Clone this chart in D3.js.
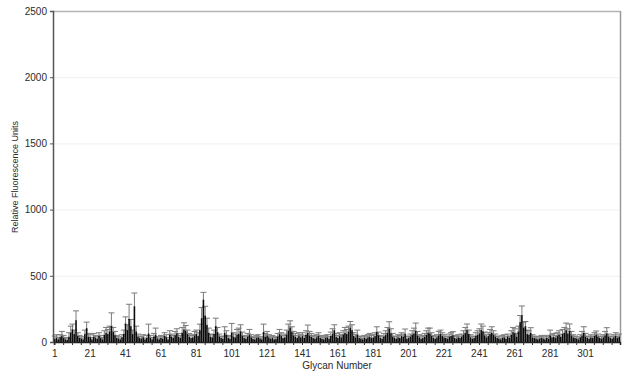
<!DOCTYPE html>
<html><head><meta charset="utf-8">
<script src="https://cdn.jsdelivr.net/npm/d3@7"></script>
<style>body{margin:0;background:#fff}svg{display:block}text{font-family:"Liberation Sans",Arial,sans-serif}</style>
</head><body>
<svg id="c" width="622" height="372"></svg>
<script>
const yTicks = [0, 500, 1000, 1500, 2000, 2500];
const xTickLabels = [1, 21, 41, 61, 81, 101, 121, 141, 161, 181, 201, 221, 241, 261, 281, 301];
const rfu = [
 25, 30, 20, 35, 45, 30, 20, 15, 40, 70, 95, 60, 165, 45, 30, 25, 20, 60, 105, 40,
 35, 20, 40, 30, 25, 45, 30, 20, 55, 70, 60, 80, 120, 75, 50, 30, 25, 20, 35, 60,
 140, 90, 175, 120, 60, 270, 80, 40, 30, 25, 35, 20, 30, 65, 30, 20, 40, 55, 25, 20,
 30, 25, 45, 35, 20, 55, 40, 30, 50, 65, 40, 30, 70, 95, 85, 60, 40, 30, 35, 50,
 60, 45, 90, 180, 320, 200, 130, 70, 40, 35, 60, 120, 75, 40, 30, 25, 70, 55, 30, 25,
 70, 40, 35, 55, 60, 80, 45, 30, 25, 40, 55, 35, 25, 20, 30, 35, 25, 20, 75, 40,
 50, 35, 25, 30, 20, 25, 40, 60, 45, 30, 35, 55, 85, 110, 75, 50, 40, 30, 45, 35,
 45, 30, 55, 70, 50, 40, 30, 25, 35, 45, 30, 25, 20, 30, 35, 25, 45, 60, 90, 40,
 30, 45, 35, 55, 70, 60, 80, 110, 90, 45, 35, 55, 30, 25, 20, 30, 25, 35, 40, 30,
 35, 45, 75, 50, 30, 25, 40, 55, 70, 100, 65, 40, 30, 25, 35, 30, 45, 40, 60, 25,
 30, 40, 55, 65, 85, 50, 35, 25, 30, 40, 55, 70, 65, 45, 30, 25, 35, 50, 60, 45,
 35, 30, 25, 40, 45, 50, 30, 25, 35, 30, 40, 55, 70, 90, 60, 35, 25, 30, 45, 55,
 65, 90, 80, 50, 35, 45, 60, 70, 55, 40, 30, 25, 20, 30, 35, 25, 40, 30, 55, 75,
 65, 40, 80, 150, 200, 110, 120, 60, 55, 70, 35, 30, 25, 20, 25, 30, 25, 20, 30, 25,
 50, 35, 40, 30, 45, 55, 40, 60, 70, 90, 65, 85, 50, 35, 30, 25, 20, 35, 50, 70,
 40, 30, 25, 35, 30, 45, 55, 40, 30, 25, 35, 50, 65, 40, 30, 25, 35, 45, 30, 40
];
const sd = [
 20, 25, 15, 20, 35, 20, 15, 10, 30, 50, 40, 30, 70, 25, 20, 15, 10, 30, 45, 25,
 20, 15, 25, 20, 15, 25, 20, 15, 30, 40, 35, 40, 100, 35, 30, 20, 15, 10, 20, 30,
 50, 40, 110, 50, 30, 100, 40, 20, 15, 15, 20, 10, 20, 70, 20, 15, 25, 50, 15, 10,
 20, 15, 25, 20, 15, 30, 20, 20, 30, 35, 25, 20, 40, 50, 40, 30, 25, 20, 20, 30,
 30, 25, 45, 80, 55, 70, 50, 35, 20, 20, 30, 60, 35, 20, 15, 15, 45, 30, 20, 15,
 70, 30, 25, 40, 45, 50, 30, 20, 15, 25, 40, 20, 15, 15, 20, 20, 15, 10, 60, 25,
 30, 20, 15, 20, 15, 15, 25, 35, 25, 20, 25, 35, 50, 50, 40, 30, 25, 20, 25, 20,
 25, 20, 30, 58, 30, 25, 20, 15, 20, 25, 20, 15, 15, 20, 20, 15, 30, 40, 40, 25,
 20, 25, 20, 30, 40, 35, 40, 45, 40, 25, 20, 35, 15, 15, 10, 20, 15, 20, 25, 20,
 20, 25, 40, 25, 20, 15, 25, 30, 40, 53, 35, 25, 15, 15, 20, 20, 25, 20, 38, 15,
 15, 20, 30, 40, 58, 30, 20, 15, 20, 25, 30, 35, 40, 25, 20, 15, 20, 30, 30, 25,
 20, 15, 15, 20, 25, 28, 20, 15, 20, 15, 20, 30, 40, 46, 30, 20, 15, 15, 25, 30,
 35, 46, 40, 25, 20, 25, 35, 45, 30, 20, 15, 15, 10, 20, 20, 15, 20, 15, 30, 35,
 35, 25, 40, 50, 72, 40, 35, 30, 30, 38, 20, 15, 15, 10, 15, 20, 15, 10, 20, 15,
 40, 20, 25, 20, 25, 30, 20, 35, 40, 53, 35, 51, 30, 20, 15, 15, 10, 20, 30, 45,
 25, 15, 15, 20, 15, 25, 28, 20, 15, 15, 20, 30, 43, 20, 15, 15, 20, 25, 15, 20
];
const glycans = rfu.map((v, i) => i + 1);

const svg = d3.select("#c");
const L = 53, R = 620, T = 11, B = 342;
const x = d3.scaleBand().domain(glycans).range([L + 1, R]).paddingInner(0.1);
const y = d3.scaleLinear().domain([0, 2500]).range([B, T]);

// gridlines
svg.append("g").selectAll("line").data(yTicks.filter(d => d > 0)).join("line")
  .attr("x1", L).attr("x2", R).attr("y1", d => y(d) + 0.5).attr("y2", d => y(d) + 0.5)
  .attr("stroke", d => d === 2500 ? "#b4b4b4" : "#f0f0f0").attr("stroke-width", d => d === 2500 ? 1.5 : 1);
// right border
svg.append("line").attr("x1", R + 0.5).attr("x2", R + 0.5).attr("y1", T).attr("y2", B)
  .attr("stroke", "#9a9a9a").attr("stroke-width", 1.5);

// error bars
const eg = svg.append("g").attr("stroke", "#7a7a7a").attr("stroke-width", 1);
glycans.forEach((g, i) => {
  const cx = x(g) + x.bandwidth() / 2;
  const top = y(rfu[i] + sd[i]);
  eg.append("line").attr("x1", cx).attr("x2", cx).attr("y1", y(rfu[i])).attr("y2", top);
  eg.append("line").attr("x1", cx - 3).attr("x2", cx + 3).attr("y1", top).attr("y2", top);
});

// bars
svg.append("g").selectAll("rect").data(glycans).join("rect")
  .attr("x", d => x(d)).attr("width", x.bandwidth())
  .attr("y", (d, i) => y(rfu[i])).attr("height", (d, i) => B - y(rfu[i]))
  .attr("fill", "#0a0a0a");

// y axis
const ya = svg.append("g").attr("transform", `translate(${L},0)`)
  .call(d3.axisLeft(y).tickValues(yTicks).tickSize(3).tickFormat(d3.format("d")));
ya.select(".domain").attr("stroke", "#555").attr("stroke-width", 1.5);
ya.selectAll(".tick line").attr("stroke", "#555");
ya.selectAll("text").attr("font-size", 10).attr("fill", "#2a2a2a").attr("font-family", "Liberation Sans, Arial, sans-serif");

// x axis
const xa = svg.append("g").attr("transform", `translate(0,${B})`)
  .call(d3.axisBottom(x).tickValues(glycans.filter(g => g % 5 === 1)).tickSize(3)
    .tickFormat(d => xTickLabels.includes(d) ? d : ""));
xa.select(".domain").attr("stroke", "#222").attr("stroke-width", 1.5);
xa.selectAll(".tick line").attr("stroke", "#333");
xa.selectAll("text").attr("font-size", 10).attr("fill", "#2a2a2a").attr("dy", "0.85em")
  .attr("font-family", "Liberation Sans, Arial, sans-serif");

// axis titles
svg.append("text").attr("x", 337).attr("y", 369).attr("text-anchor", "middle")
  .attr("font-size", 10).attr("fill", "#2a2a2a").text("Glycan Number");
svg.append("text").attr("transform", "translate(18,177) rotate(-90)").attr("text-anchor", "middle")
  .attr("font-size", 9).attr("fill", "#2a2a2a").text("Relative Fluorescence Units");
</script>
</body></html>
